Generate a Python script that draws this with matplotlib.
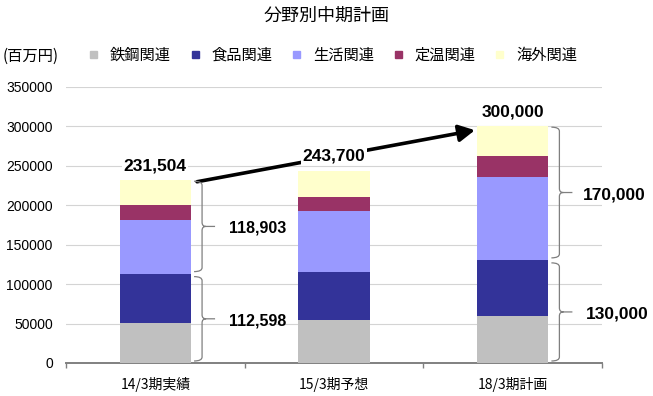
import matplotlib
matplotlib.use("Agg")
import matplotlib.pyplot as plt
import numpy as np
from matplotlib.path import Path
from matplotlib.patches import PathPatch, Rectangle
from matplotlib.transforms import IdentityTransform

# ---------------- data ----------------
periods = ["14/3期実績", "15/3期予想", "18/3期計画"]
segments = ["鉄鋼関連", "食品関連", "生活関連", "定温関連", "海外関連"]
steel = [51000, 54000, 60000]
food = [61598, 61000, 70000]
life = [68000, 77000, 105000]
thermo = [19000, 18000, 27000]
overseas = [31906, 33700, 38000]
totals = [231504, 243700, 300000]
total_labels = ["231,504", "243,700", "300,000"]
brace_labels_low = ["112,598", None, "130,000"]
brace_labels_high = ["118,903", None, "170,000"]
y_ticks = [0, 50000, 100000, 150000, 200000, 250000, 300000, 350000]
title = "分野別中期計画"
unit_label = "(百万円)"

colors = ["#C0C0C0", "#333399", "#9999FF", "#993366", "#FFFFCC"]

CJK = ["Noto Sans CJK JP", "DejaVu Sans"]
LAT = ["Liberation Sans", "DejaVu Sans"]

W, H = 653, 396
fig = plt.figure(figsize=(W / 100, H / 100), dpi=100)
ax = fig.add_axes([66 / W, 1 - 363 / H, (602 - 66) / W, (363 - 86.7) / H])

x = np.arange(len(periods))
bw = 0.4
series = [steel, food, life, thermo, overseas]
bottom = np.zeros(len(periods))
for vals, col in zip(series, colors):
    ax.bar(x, vals, bw, bottom=bottom, color=col, edgecolor="none", zorder=3)
    bottom += np.array(vals)

ax.set_xlim(-0.5, len(periods) - 0.5)
ax.set_ylim(0, 350000)
ax.set_yticks(y_ticks)
ax.set_yticklabels([str(v) for v in y_ticks], fontfamily=LAT, fontsize=10)
ax.yaxis.grid(True, color="#d4d4d4", linewidth=0.8, zorder=0)
ax.set_axisbelow(True)
ax.tick_params(axis="y", length=0, pad=9.5)

ax.set_xticks(x)
ax.set_xticklabels(periods, fontfamily=CJK, fontsize=10)
ax.set_xticks(np.arange(-0.5, len(periods)), minor=True)
ax.tick_params(axis="x", which="major", length=0, pad=10)
ax.tick_params(axis="x", which="minor", length=3.5, color="#808080", width=1)

for s in ["top", "right", "left"]:
    ax.spines[s].set_visible(False)
ax.spines["bottom"].set_color("#808080")
ax.spines["bottom"].set_linewidth(1.4)

# ---------------- title & legend ----------------
fig.text(0.5, 1 - 16 / H, title, ha="center", va="center", fontsize=13,
         fontfamily=CJK)
fig.text(3 / W, 1 - 56 / H, unit_label, ha="left", va="center", fontsize=11,
         fontfamily=CJK)
leg_x0, leg_dx = 90, 101.5
for i, (name, col) in enumerate(zip(segments, colors)):
    sx = leg_x0 + i * leg_dx
    fig.patches.append(Rectangle(((sx) / W, 1 - 58 / H), 7 / W, 7 / H,
                                 transform=fig.transFigure, color=col,
                                 edgecolor="none"))
    fig.text((sx + 20) / W, 1 - 55 / H, name, ha="left", va="center",
             fontsize=11, fontfamily=CJK)

# ---------------- total labels & arrow ----------------
px_y = 350000 / (363 - 86.7)
px_x = (len(periods)) / (602 - 66)

for xi, tot, lab in zip(x, totals, total_labels):
    ax.text(xi, tot + 14.5 * px_y, lab, ha="center", va="center",
            fontsize=12.5, fontweight="bold", fontfamily=LAT, zorder=6,
            bbox=dict(facecolor="white", edgecolor="none", pad=1.0))

ax.annotate("", xy=(x[2] - bw / 2 - 2 * px_x, totals[2] - 4 * px_y),
            xytext=(x[0] + bw / 2 + 6 * px_x, totals[0] - 1.5 * px_y),
            arrowprops=dict(arrowstyle="-|>,head_length=0.8,head_width=0.42",
                            lw=2.6, color="black", mutation_scale=12,
                            shrinkA=0, shrinkB=0),
            zorder=5)

# ---------------- braces ----------------
fig.canvas.draw()


def brace(xd, y_top, y_bot, label, fs, gap):
    (x0, yt) = ax.transData.transform((xd, y_top))
    (_, yb) = ax.transData.transform((xd, y_bot))
    x0 += 3
    xs = x0 + 8
    tip = x0 + 21
    r = 4
    ym = (yt + yb) / 2
    verts = [(x0, yt), (xs, yt), (xs, yt - r), (xs, ym + r), (xs, ym), (xs + r, ym),
             (tip, ym),
             (xs + r, ym), (xs, ym), (xs, ym - r), (xs, yb + r), (xs, yb), (x0, yb)]
    codes = [Path.MOVETO, Path.CURVE3, Path.CURVE3, Path.LINETO, Path.CURVE3, Path.CURVE3,
             Path.LINETO,
             Path.MOVETO, Path.CURVE3, Path.CURVE3, Path.LINETO, Path.CURVE3, Path.CURVE3]
    pp = PathPatch(Path(verts, codes), facecolor="none", edgecolor="#7f7f7f",
                   lw=0.9, transform=IdentityTransform())
    fig.patches.append(pp)
    lx, ly = ax.transData.inverted().transform((tip + gap, ym - 2))
    ax.text(lx, ly, label, ha="left", va="center", fontsize=fs,
            fontweight="bold", fontfamily=LAT, zorder=6)


low_tops = np.array(steel) + np.array(food)
for i in range(len(periods)):
    if brace_labels_low[i] is None:
        continue
    fs = 11.5 if i == 0 else 12.5
    xe = x[i] + bw / 2
    brace(xe, totals[i] - 1 * px_y, low_tops[i] + 2.5 * px_y, brace_labels_high[i], fs,
          14 if i == 0 else 10)
    brace(xe, low_tops[i] - 2.5 * px_y, 0 + 2 * px_y, brace_labels_low[i], fs,
          14 if i == 0 else 13)

fig.savefig("out.png", dpi=100)
